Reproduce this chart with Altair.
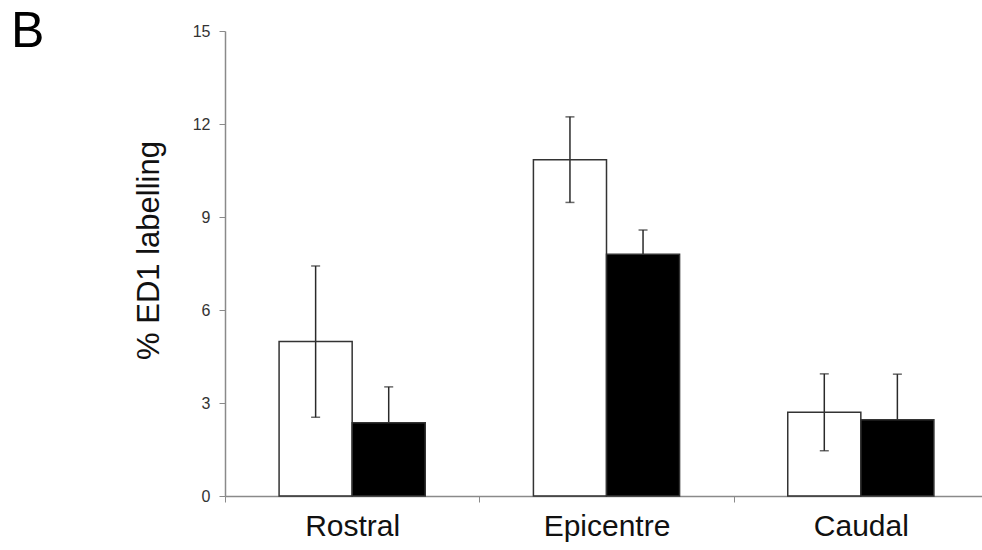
import altair as alt
import pandas as pd

# Mean % ED1 labelling per spinal cord region, two groups, with error bars
regions = ["Rostral", "Epicentre", "Caudal"]
groups = ["Group A", "Group B"]
means_a = [4.98, 10.85, 2.70]
errs_a = [2.44, 1.38, 1.24]
means_b = [2.36, 7.80, 2.46]
errs_b = [1.16, 0.78, 1.47]
panel_letter = ["B"]

rows = []
for i, r in enumerate(regions):
    rows.append({"region": r, "group": groups[0], "mean": means_a[i], "err": errs_a[i]})
    rows.append({"region": r, "group": groups[1], "mean": means_b[i], "err": errs_b[i]})
df = pd.DataFrame(rows)

FONT = "Liberation Sans"
AXIS_GREY = "#8a8a8a"
ERR_COLOR = "#2a2a2a"

x_enc = alt.X(
    "region:N",
    sort=regions,
    scale=alt.Scale(paddingInner=0, paddingOuter=0),
    axis=alt.Axis(
        title=None,
        tickBand="extent",
        tickSize=6,
        tickColor=AXIS_GREY,
        domainColor=AXIS_GREY,
        domainWidth=1.5,
        labelFont=FONT,
        labelFontSize=30,
        labelColor="#111111",
        labelPadding=9,
        labelAngle=0,
    ),
)
xoff_enc = alt.XOffset(
    "group:N", sort=groups, scale=alt.Scale(paddingInner=0, paddingOuter=0.74)
)
y_scale = alt.Scale(domain=[0, 15], nice=False, zero=True)
y_axis = alt.Axis(
    title="% ED1 labelling",
    values=[0, 3, 6, 9, 12, 15],
    grid=False,
    tickSize=6,
    tickColor=AXIS_GREY,
    domainColor=AXIS_GREY,
    domainWidth=1.5,
    labelFont=FONT,
    labelFontSize=16,
    labelColor="#333333",
    labelPadding=9,
    titleFont=FONT,
    titleFontSize=31,
    titleFontWeight="normal",
    titleColor="#111111",
    titlePadding=27,
    titleY=219,
)

base = alt.Chart(df).transform_calculate(
    lo="datum.mean - datum.err", hi="datum.mean + datum.err"
)

# error bars go underneath, so the filled bars hide their lower half
stems = base.mark_rule(color=ERR_COLOR, strokeWidth=1.5).encode(
    x=x_enc, xOffset=xoff_enc, y=alt.Y("lo:Q", scale=y_scale, axis=y_axis), y2="hi:Q"
)
caps_hi = base.mark_tick(color=ERR_COLOR, thickness=1.5, size=9, orient="horizontal").encode(
    x=x_enc, xOffset=xoff_enc, y=alt.Y("hi:Q", scale=y_scale)
)
caps_lo = base.mark_tick(color=ERR_COLOR, thickness=1.5, size=9, orient="horizontal").encode(
    x=x_enc, xOffset=xoff_enc, y=alt.Y("lo:Q", scale=y_scale)
)

bars = base.mark_bar(stroke="#333333", strokeWidth=1.5, fill="#000000").encode(
    x=x_enc,
    xOffset=xoff_enc,
    y=alt.Y("mean:Q", scale=y_scale),
    fillOpacity=alt.FillOpacity(
        "group:N", scale=alt.Scale(domain=groups, range=[0, 1]), legend=None
    ),
)

# panel letter in the top-left corner of the figure
letter = alt.Chart(pd.DataFrame({"label": panel_letter})).mark_text(
    font=FONT, fontSize=50, color="#000000", align="left", baseline="alphabetic"
).encode(text="label:N", x=alt.value(-214), y=alt.value(16))

chart = (
    alt.layer(stems, caps_hi, caps_lo, bars, letter)
    .properties(
        width=763,
        height=465,
        background="white",
        autosize=alt.AutoSizeParams(type="none"),
        padding={"left": 225, "top": 31, "right": -6, "bottom": 54},
    )
    .configure_view(strokeWidth=0, stroke="transparent")
)

chart.save("out.html", embed_options={"renderer": "svg", "actions": False})
